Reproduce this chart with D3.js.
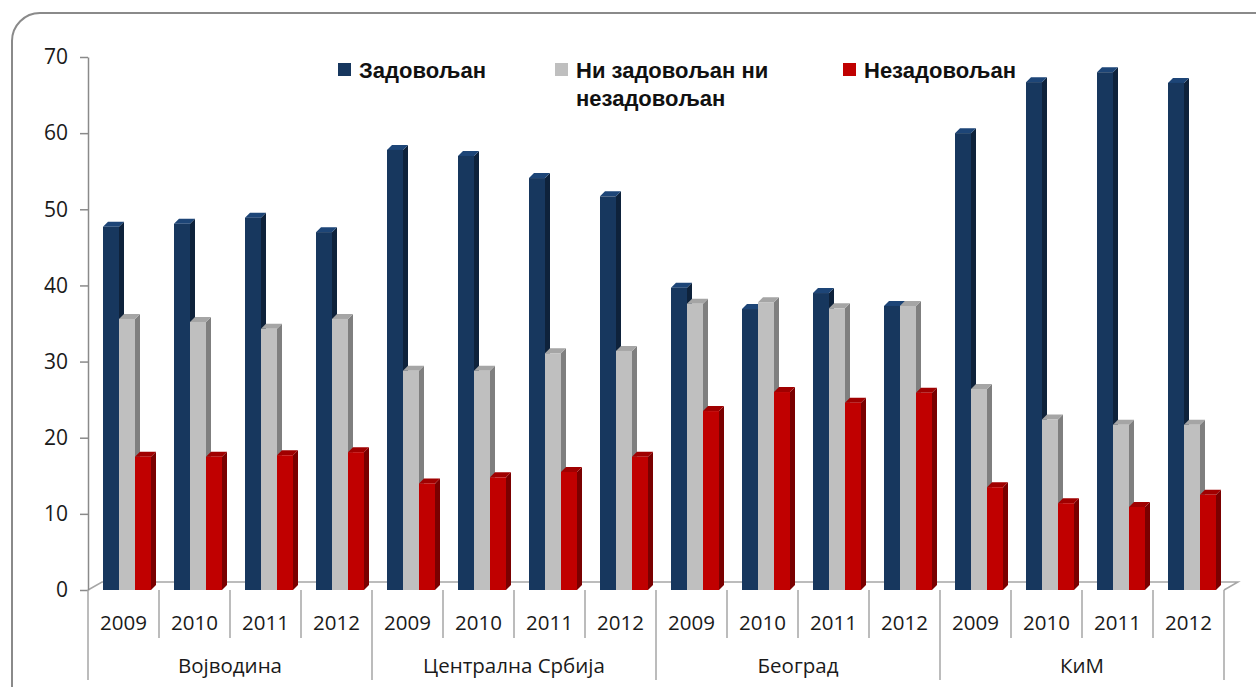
<!DOCTYPE html>
<html>
<head>
<meta charset="utf-8">
<script src="https://cdn.jsdelivr.net/npm/d3@7"></script>
<style>
  body { margin: 0; background: #fff; }
  svg { display: block; }
  .tick text { font-family: "Open Sans", "Noto Sans", sans-serif; font-size: 21px; fill: #1a1a1a; }
  .cat { font-family: "Open Sans", "Noto Sans", sans-serif; font-size: 20.5px; fill: #1a1a1a; }
  .leg { font-family: "Liberation Sans", Arial, sans-serif; font-weight: bold; font-size: 22px; fill: #111; }
</style>
</head>
<body>
<svg id="chart" width="1256" height="687"></svg>
<script>
var groups = ["Војводина", "Централна Србија", "Београд", "КиМ"],
    years = ["2009", "2010", "2011", "2012"],
    seriesNames = ["Задовољан", "Ни задовољан ни незадовољан", "Незадовољан"],
    yTicks = [0, 10, 20, 30, 40, 50, 60, 70];

// one value per group/year, in the order Војводина 2009..2012, Централна Србија 2009..2012, ...
var satisfied    = [47.7, 48.1, 48.9, 47.0, 57.8, 57.0, 54.1, 51.7, 39.7, 36.9, 39.0, 37.3, 60.0, 66.7, 68.0, 66.6];
var neutral      = [35.6, 35.2, 34.3, 35.6, 28.8, 28.8, 31.1, 31.4, 37.6, 37.8, 37.0, 37.3, 26.4, 22.4, 21.7, 21.7];
var dissatisfied = [17.5, 17.5, 17.7, 18.1, 14.0, 14.8, 15.5, 17.5, 23.5, 26.0, 24.6, 25.9, 13.5, 11.4, 10.9, 12.5];

var colors = [
  {front: "#17375e", side: "#0e223b", top: "#1d4577"},
  {front: "#bfbfbf", side: "#7f7f7f", top: "#a5a5a5"},
  {front: "#c00000", side: "#7a0000", top: "#a00000"}
];

var svg = d3.select("#chart");
var left = 88, right = 1224, bottom = 590, topY = 57;
var dx = 5, dy = 5;

// rounded frame (runs off the right and bottom edge)
svg.append("rect")
  .attr("x", 12).attr("y", 13)
  .attr("width", 1300).attr("height", 740)
  .attr("rx", 28)
  .attr("fill", "none")
  .attr("stroke", "#8a8a8a")
  .attr("stroke-width", 2);

var keys = [];
groups.forEach(g => years.forEach(yr => keys.push(g + "|" + yr)));

var x0 = d3.scaleBand().domain(keys).range([left, right]);
var x1 = d3.scaleBand().domain(seriesNames).range([15, 63]);
var y = d3.scaleLinear().domain([0, 70]).range([bottom, topY]);

// floor
svg.append("path")
  .attr("d", "M" + left + "," + bottom + "L" + (left + 14) + "," + (bottom - 8) +
             "L" + (right + 14) + "," + (bottom - 8) + "L" + right + "," + bottom)
  .attr("fill", "none")
  .attr("stroke", "#a6a6a6")
  .attr("stroke-width", 1.5);

// y axis
var yAxis = svg.append("g")
  .attr("transform", "translate(" + left + ",0)")
  .call(d3.axisLeft(y).tickValues(yTicks).tickSize(8).tickSizeOuter(0).tickPadding(12));
yAxis.select(".domain").attr("stroke", "#8a8a8a").attr("stroke-width", 1.5);
yAxis.selectAll(".tick line").attr("stroke", "#8a8a8a").attr("stroke-width", 1.5);

// bars
var data = [satisfied, neutral, dissatisfied];
keys.forEach((k, i) => {
  var slot = svg.append("g").attr("transform", "translate(" + x0(k) + ",0)");
  seriesNames.forEach((s, j) => {
    var bx = x1(s), bw = x1.bandwidth(), by = y(data[j][i]);
    var c = colors[j];
    slot.append("path")
      .attr("d", "M" + (bx + bw) + "," + by + "L" + (bx + bw + dx) + "," + (by - dy) +
                 "L" + (bx + bw + dx) + "," + (bottom - dy) + "L" + (bx + bw) + "," + bottom + "Z")
      .attr("fill", c.side);
    slot.append("path")
      .attr("d", "M" + bx + "," + by + "L" + (bx + dx) + "," + (by - dy) +
                 "L" + (bx + bw + dx) + "," + (by - dy) + "L" + (bx + bw) + "," + by + "Z")
      .attr("fill", c.top);
    slot.append("rect")
      .attr("x", bx).attr("y", by)
      .attr("width", bw).attr("height", bottom - by)
      .attr("fill", c.front);
  });
});

// category axis: year separators and labels
var bw0 = x0.bandwidth();
keys.forEach((k, i) => {
  var xs = x0(k);
  if (i % 4 != 0) {
    svg.append("line")
      .attr("x1", xs).attr("x2", xs)
      .attr("y1", bottom).attr("y2", 638)
      .attr("stroke", "#a6a6a6").attr("stroke-width", 1.5);
  }
  svg.append("text")
    .attr("class", "cat")
    .attr("x", xs + bw0 / 2).attr("y", 630)
    .attr("text-anchor", "middle")
    .text(k.split("|")[1]);
});

// group separators and labels
groups.forEach((g, i) => {
  var gx = x0(g + "|" + years[0]);
  svg.append("line")
    .attr("x1", gx).attr("x2", gx)
    .attr("y1", bottom).attr("y2", 680)
    .attr("stroke", "#a6a6a6").attr("stroke-width", 1.5);
  svg.append("text")
    .attr("class", "cat")
    .attr("x", gx + bw0 * 2).attr("y", 673)
    .attr("text-anchor", "middle")
    .text(g);
});
svg.append("line")
  .attr("x1", right).attr("x2", right)
  .attr("y1", bottom).attr("y2", 680)
  .attr("stroke", "#a6a6a6").attr("stroke-width", 1.5);

// legend
var legendX = [338, 555, 843];
var legendLines = [["Задовољан"], ["Ни задовољан ни", "незадовољан"], ["Незадовољан"]];
seriesNames.forEach((s, j) => {
  var lg = svg.append("g").attr("transform", "translate(" + legendX[j] + ",0)");
  lg.append("rect")
    .attr("x", 0).attr("y", 63)
    .attr("width", 13).attr("height", 13)
    .attr("fill", colors[j].front);
  legendLines[j].forEach((line, n) => {
    lg.append("text")
      .attr("class", "leg")
      .attr("x", 21).attr("y", 78 + n * 28)
      .text(line);
  });
});
</script>
</body>
</html>
